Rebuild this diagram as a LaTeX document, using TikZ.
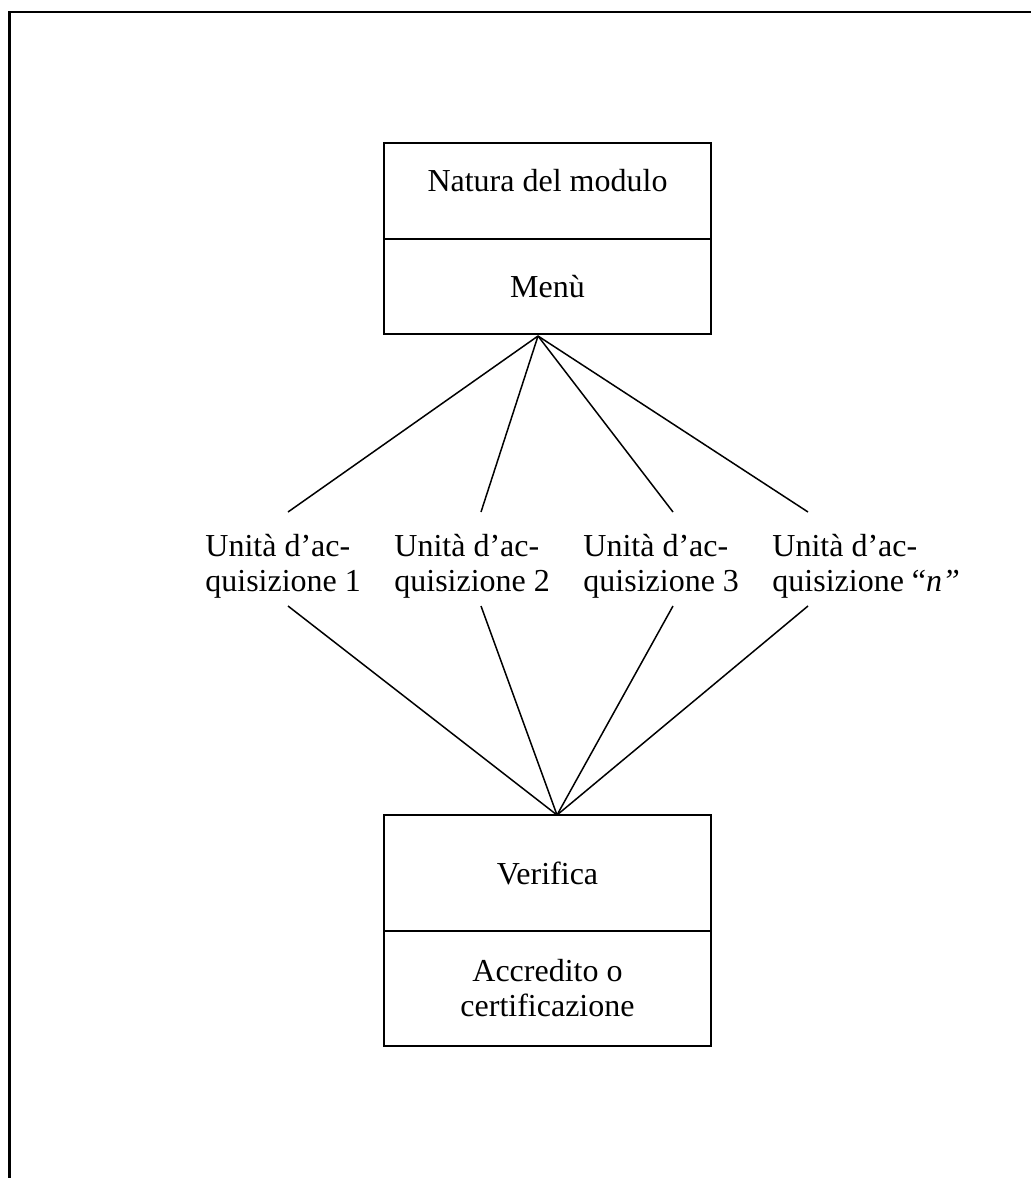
\documentclass[tikz,border=0pt]{standalone}
\usepackage{fontspec}
\setmainfont{Liberation Serif}
\usetikzlibrary{positioning}

\begin{document}
\begin{tikzpicture}[x=0.5pt, y=-0.5pt,
    font=\fontsize{16pt}{17.5pt}\selectfont,
    blocco/.style={draw, line width=1pt, minimum width=163.5pt, inner sep=0pt, outer sep=0pt},
    unita/.style={align=left, anchor=north west, inner sep=0pt},
    linea/.style={line width=0.75pt}]
    \useasboundingbox (0, 0) rectangle (1031, 1178);
    \draw[line width=1.2pt] (1031, 12) -| (9.5, 1178);

    \node[blocco, minimum height=48pt, text height=0pt, text depth=0pt] (natura) at (547.5, 191) {Natura del modulo};
    \node[blocco, minimum height=47.5pt, below=0pt of natura] (menu) {Menù};

    \node[blocco, minimum height=58pt] (verifica) at (547.5, 873) {Verifica};
    \node[blocco, minimum height=57.5pt, below=0pt of verifica, align=center] (accredito) {Accredito o\\certificazione};

    \node[unita] (unita1) at (205, 534) {Unità d’ac-\\quisizione 1};
    \node[unita] (unita2) at (394, 534) {Unità d’ac-\\quisizione 2};
    \node[unita] (unita3) at (583, 534) {Unità d’ac-\\quisizione 3};
    \node[unita] (unitan) at (772, 534) {Unità d’ac-\\quisizione “\textit{n”}};

    \coordinate (apicemenu) at (538, 336);
    \coordinate (apiceverifica) at (557, 815);
    \coordinate (su1) at (288, 512);
    \coordinate (su2) at (481, 512);
    \coordinate (su3) at (673, 512);
    \coordinate (sun) at (808, 512);
    \coordinate (giu1) at (288, 606);
    \coordinate (giu2) at (481, 606);
    \coordinate (giu3) at (673, 606);
    \coordinate (giun) at (808, 606);

    \draw[linea] (apicemenu) -- (su1);
    \draw[linea] (apicemenu) -- (su2);
    \draw[linea] (apicemenu) -- (su3);
    \draw[linea] (apicemenu) -- (sun);

    \draw[linea] (giu1) -- (apiceverifica);
    \draw[linea] (giu2) -- (apiceverifica);
    \draw[linea] (giu3) -- (apiceverifica);
    \draw[linea] (giun) -- (apiceverifica);
\end{tikzpicture}
\end{document}
